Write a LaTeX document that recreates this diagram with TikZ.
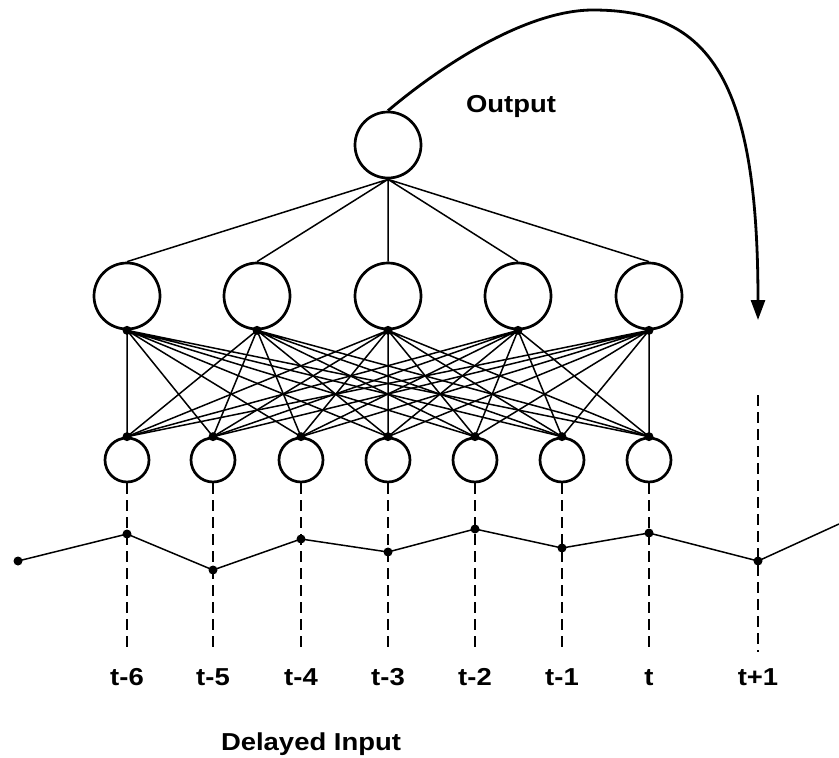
\documentclass[tikz,border=0pt]{standalone}
\usepackage{fontspec}
\setmainfont{Liberation Sans}[FakeStretch=1.12]
\usepackage{tikz}
\usetikzlibrary{arrows.meta}

\tikzset{
  neuron/.style={circle, draw, line width=2.7pt, minimum size=66pt, inner sep=0pt},
  inneuron/.style={circle, draw, line width=2.7pt, minimum size=44pt, inner sep=0pt},
  link/.style={line width=1.5pt},
  delay/.style={line width=1.6pt, dash pattern=on 11pt off 6pt},
  lab/.style={font=\fontsize{24.5}{28}\selectfont\bfseries, anchor=base, inner xsep=2pt, inner ysep=16pt}
}

\begin{document}
\begin{tikzpicture}[x=1pt,y=-1pt]
\useasboundingbox (0,0) rectangle (839,758);

\node[neuron] (O) at (388,145) {};
	\node[neuron] (H1) at (127,296) {};
	\node[neuron] (H2) at (257,296) {};
	\node[neuron] (H3) at (388,296) {};
	\node[neuron] (H4) at (518,296) {};
	\node[neuron] (H5) at (649,296) {};
\node[inneuron] (I1) at (127,460) {};
\node[inneuron] (I2) at (213,460) {};
\node[inneuron] (I3) at (301,460) {};
\node[inneuron] (I4) at (388,460) {};
\node[inneuron] (I5) at (475,460) {};
\node[inneuron] (I6) at (562,460) {};
\node[inneuron] (I7) at (649,460) {};

\node[lab] (T1) at (127,685) {t-6};
\node[lab] (T2) at (213,685) {t-5};
\node[lab] (T3) at (301,685) {t-4};
\node[lab] (T4) at (388,685) {t-3};
\node[lab] (T5) at (475,685) {t-2};
\node[lab] (T6) at (562,685) {t-1};
\node[lab] (T7) at (649,685) {t};
\node[lab] (T8) at (758,685) {t+1};
\node[lab, inner ysep=2pt] (OUT) at (511,112) {Output};
\node[lab, inner ysep=2pt] (DIN) at (311,750) {Delayed Input};

\coordinate (P0) at (18,561);
\coordinate (P1) at (127,534);
\coordinate (P2) at (213,570);
\coordinate (P3) at (301,539);
\coordinate (P4) at (388,552);
\coordinate (P5) at (475,529);
\coordinate (P6) at (562,548);
\coordinate (P7) at (649,533);
\coordinate (P8) at (758,561);
\coordinate (P9) at (839,524);
\coordinate (D8) at (758,395);
\coordinate (R) at (758,320);

% output layer
\draw[link] (O.south) -- (H1.north) (O.south) -- (H2.north) (O.south) -- (H3.north) (O.south) -- (H4.north) (O.south) -- (H5.north);

% hidden to delayed inputs
\draw[link] (H1.south) -- (I1.north) (H1.south) -- (I2.north) (H1.south) -- (I3.north) (H1.south) -- (I4.north) (H1.south) -- (I5.north) (H1.south) -- (I6.north) (H1.south) -- (I7.north);
\draw[link] (H2.south) -- (I1.north) (H2.south) -- (I2.north) (H2.south) -- (I3.north) (H2.south) -- (I4.north) (H2.south) -- (I5.north) (H2.south) -- (I6.north) (H2.south) -- (I7.north);
\draw[link] (H3.south) -- (I1.north) (H3.south) -- (I2.north) (H3.south) -- (I3.north) (H3.south) -- (I4.north) (H3.south) -- (I5.north) (H3.south) -- (I6.north) (H3.south) -- (I7.north);
\draw[link] (H4.south) -- (I1.north) (H4.south) -- (I2.north) (H4.south) -- (I3.north) (H4.south) -- (I4.north) (H4.south) -- (I5.north) (H4.south) -- (I6.north) (H4.south) -- (I7.north);
\draw[link] (H5.south) -- (I1.north) (H5.south) -- (I2.north) (H5.south) -- (I3.north) (H5.south) -- (I4.north) (H5.south) -- (I5.north) (H5.south) -- (I6.north) (H5.south) -- (I7.north);

\fill (H1.south) circle (4.5pt) (H2.south) circle (4.5pt) (H3.south) circle (4.5pt) (H4.south) circle (4.5pt) (H5.south) circle (4.5pt);
\fill (I1.north) circle (4.5pt) (I2.north) circle (4.5pt) (I3.north) circle (4.5pt) (I4.north) circle (4.5pt) (I5.north) circle (4.5pt) (I6.north) circle (4.5pt) (I7.north) circle (4.5pt);

% delays
\draw[delay] (I1.south) -- (T1.north);
\draw[delay] (I2.south) -- (T2.north);
\draw[delay] (I3.south) -- (T3.north);
\draw[delay] (I4.south) -- (T4.north);
\draw[delay] (I5.south) -- (T5.north);
\draw[delay] (I6.south) -- (T6.north);
\draw[delay] (I7.south) -- (T7.north);
\draw[delay] (D8) -- (T8.north);

% series
\draw[link] (P0) -- (P1) -- (P2) -- (P3) -- (P4) -- (P5) -- (P6) -- (P7) -- (P8) -- (P9);
\fill (P0) circle (4.5pt) (P1) circle (4.5pt) (P2) circle (4.5pt) (P3) circle (4.5pt) (P4) circle (4.5pt) (P5) circle (4.5pt) (P6) circle (4.5pt) (P7) circle (4.5pt) (P8) circle (4.5pt);

% feedback
\draw[line width=2.8pt, -{Triangle[length=20pt,width=14pt]}] (O.north) .. controls (448,60) and (530,10) .. (593,10) .. controls (710,10) and (758,80) .. (R);

\end{tikzpicture}
\end{document}
